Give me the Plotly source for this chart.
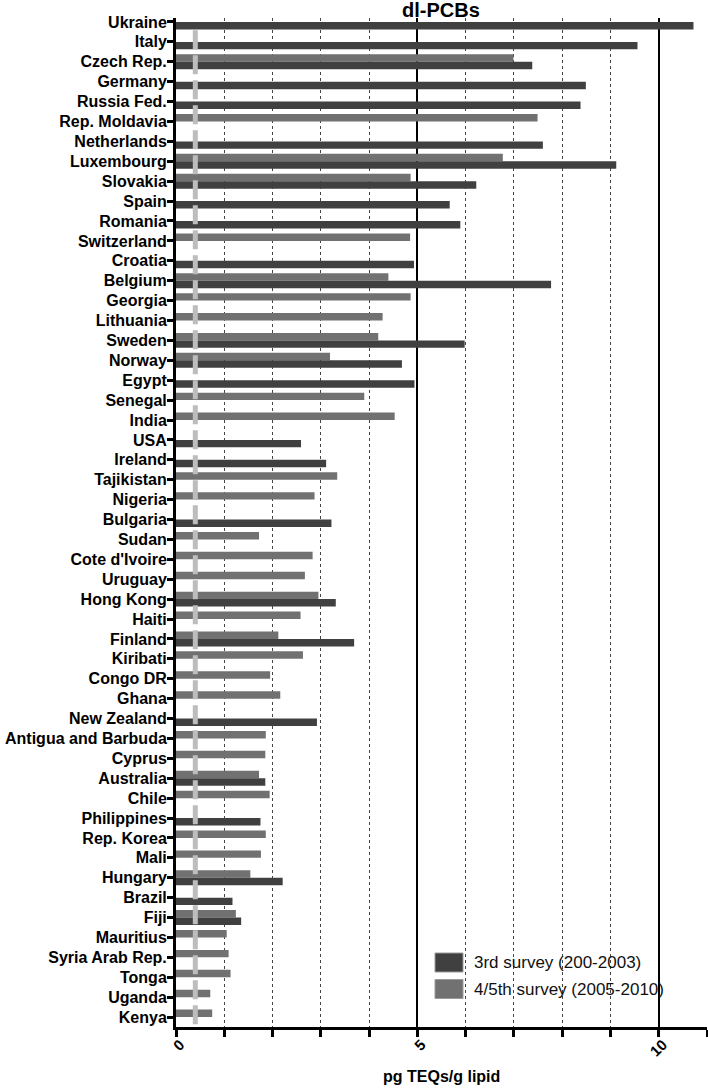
import plotly.graph_objects as go

countries = ["Ukraine", "Italy", "Czech Rep.", "Germany", "Russia Fed.", "Rep. Moldavia",
             "Netherlands", "Luxembourg", "Slovakia", "Spain", "Romania", "Switzerland",
             "Croatia", "Belgium", "Georgia", "Lithuania", "Sweden", "Norway", "Egypt",
             "Senegal", "India", "USA", "Ireland", "Tajikistan", "Nigeria", "Bulgaria",
             "Sudan", "Cote d'Ivoire", "Uruguay", "Hong Kong", "Haiti", "Finland",
             "Kiribati", "Congo DR", "Ghana", "New Zealand", "Antigua and Barbuda",
             "Cyprus", "Australia", "Chile", "Philippines", "Rep. Korea", "Mali",
             "Hungary", "Brazil", "Fiji", "Mauritius", "Syria Arab Rep.", "Tonga",
             "Uganda", "Kenya"]

survey3 = [10.72, 9.56, 7.38, 8.49, 8.38, None, 7.60, 9.12, 6.22, 5.67, 5.89, None,
           4.93, 7.77, None, None, 5.98, 4.68, 4.94, None, None, 2.59, 3.11, None,
           None, 3.22, None, None, None, 3.31, None, 3.69, None, None, None, 2.92,
           None, None, 1.85, None, 1.75, None, None, 2.21, 1.17, 1.35, None, None,
           None, None, None]

survey45 = [None, None, 6.99, None, None, 7.49, None, 6.77, 4.86, None, None, 4.85,
            None, 4.40, 4.86, 4.28, 4.19, 3.19, None, 3.90, 4.53, None, None, 3.34,
            2.87, None, 1.72, 2.83, 2.67, 2.95, 2.58, 2.12, 2.63, 1.95, 2.16, None,
            1.86, 1.85, 1.72, 1.94, None, 1.86, 1.76, 1.54, None, 1.24, 1.05, 1.09,
            1.13, 0.71, 0.75]

series_names = ["3rd survey (200-2003)", "4/5th survey (2005-2010)"]
major_ticks = [0, 5, 10]
REF_LINE = 0.4

DARK = "#404040"
GRAY = "#717171"
FONT = "Liberation Sans, Arial, sans-serif"

W, H = 708, 1089
L, R, T, B = 176, 1, 18, 62
PW, PH = W - L - R, H - T - B


def px_x(px):
    return (px - L) / PW


def px_y(py):
    return 1 - (py - T) / PH


fig = go.Figure()
# gray (4/5th) first so it sits in the upper slot of each group (reversed axis)
fig.add_trace(go.Bar(y=countries, x=survey45, orientation="h", name=series_names[1],
                     marker=dict(color=GRAY, line=dict(width=0)), showlegend=False))
fig.add_trace(go.Bar(y=countries, x=survey3, orientation="h", name=series_names[0],
                     marker=dict(color=DARK, line=dict(width=0)), showlegend=False))

# reference dashed line
fig.add_shape(type="line", xref="x", yref="y", x0=REF_LINE, x1=REF_LINE,
              y0=0.42, y1=len(countries) - 0.5, layer="above",
              line=dict(color="#bdbdbd", width=5, dash="19px,6px"))

# manual legend
legend_items = [(series_names[0], DARK), (series_names[1], GRAY)]
for i, (name, col) in enumerate(legend_items):
    ytop = 953 + i * 26.5
    fig.add_shape(type="rect", xref="paper", yref="paper",
                  x0=px_x(435), x1=px_x(463), y0=px_y(ytop + 19), y1=px_y(ytop),
                  fillcolor=col, line=dict(color="#9a9a9a", width=1), layer="above")
    fig.add_annotation(xref="paper", yref="paper", x=px_x(472), y=px_y(ytop + 9.5),
                       text=name, showarrow=False, xanchor="left", yanchor="middle",
                       font=dict(family=FONT, size=17, color="#111"))

# x axis title
fig.add_annotation(xref="paper", yref="paper", x=px_x(441), y=px_y(1076),
                   text="<b>pg TEQs/g lipid</b>", showarrow=False,
                   xanchor="center", yanchor="middle",
                   font=dict(family=FONT, size=16, color="black"))

fig.update_layout(
    width=W, height=H,
    margin=dict(l=L, r=R, t=T, b=B),
    paper_bgcolor="white", plot_bgcolor="white",
    barmode="group", bargap=0.25, bargroupgap=0,
    title=dict(text="<b>dl-PCBs</b>", x=441 / W, xanchor="center",
               y=1 - 10 / H, yanchor="middle",
               font=dict(family=FONT, size=20, color="black")),
    font=dict(family=FONT, color="black"),
)

fig.update_xaxes(
    range=[0, 11.0], automargin=False,
    tickvals=major_ticks, ticktext=[f"<b>{v}</b>" for v in major_ticks],
    tickangle=-45, tickfont=dict(family=FONT, size=15, color="black"),
    ticklabelstandoff=-7, ticklabelshift=4,
    ticks="outside", ticklen=7, tickwidth=3, tickcolor="black",
    showline=True, linewidth=3, linecolor="black",
    showgrid=True, gridcolor="black", gridwidth=2,
    zeroline=False,
    minor=dict(dtick=1, tick0=0, ticks="outside", ticklen=7, tickwidth=3,
               tickcolor="black", showgrid=True, gridcolor="#444",
               gridwidth=1, griddash="dot"),
)

fig.update_yaxes(
    type="category", categoryorder="array", categoryarray=countries,
    range=[len(countries) - 0.5, -0.2], automargin=False,
    tickfont=dict(family=FONT, size=16, color="black"),
    tickprefix="<b>", ticksuffix="</b>",
    ticklabelstandoff=-3,
    ticks="outside", ticklen=6, tickwidth=3, tickcolor="black",
    showline=True, linewidth=3, linecolor="black",
    showgrid=False, zeroline=False,
)

fig.write_html("out.html",
               config={"displayModeBar": False},
               post_script="document.body.style.margin='0px';"
                           "document.body.style.overflow='hidden';")
